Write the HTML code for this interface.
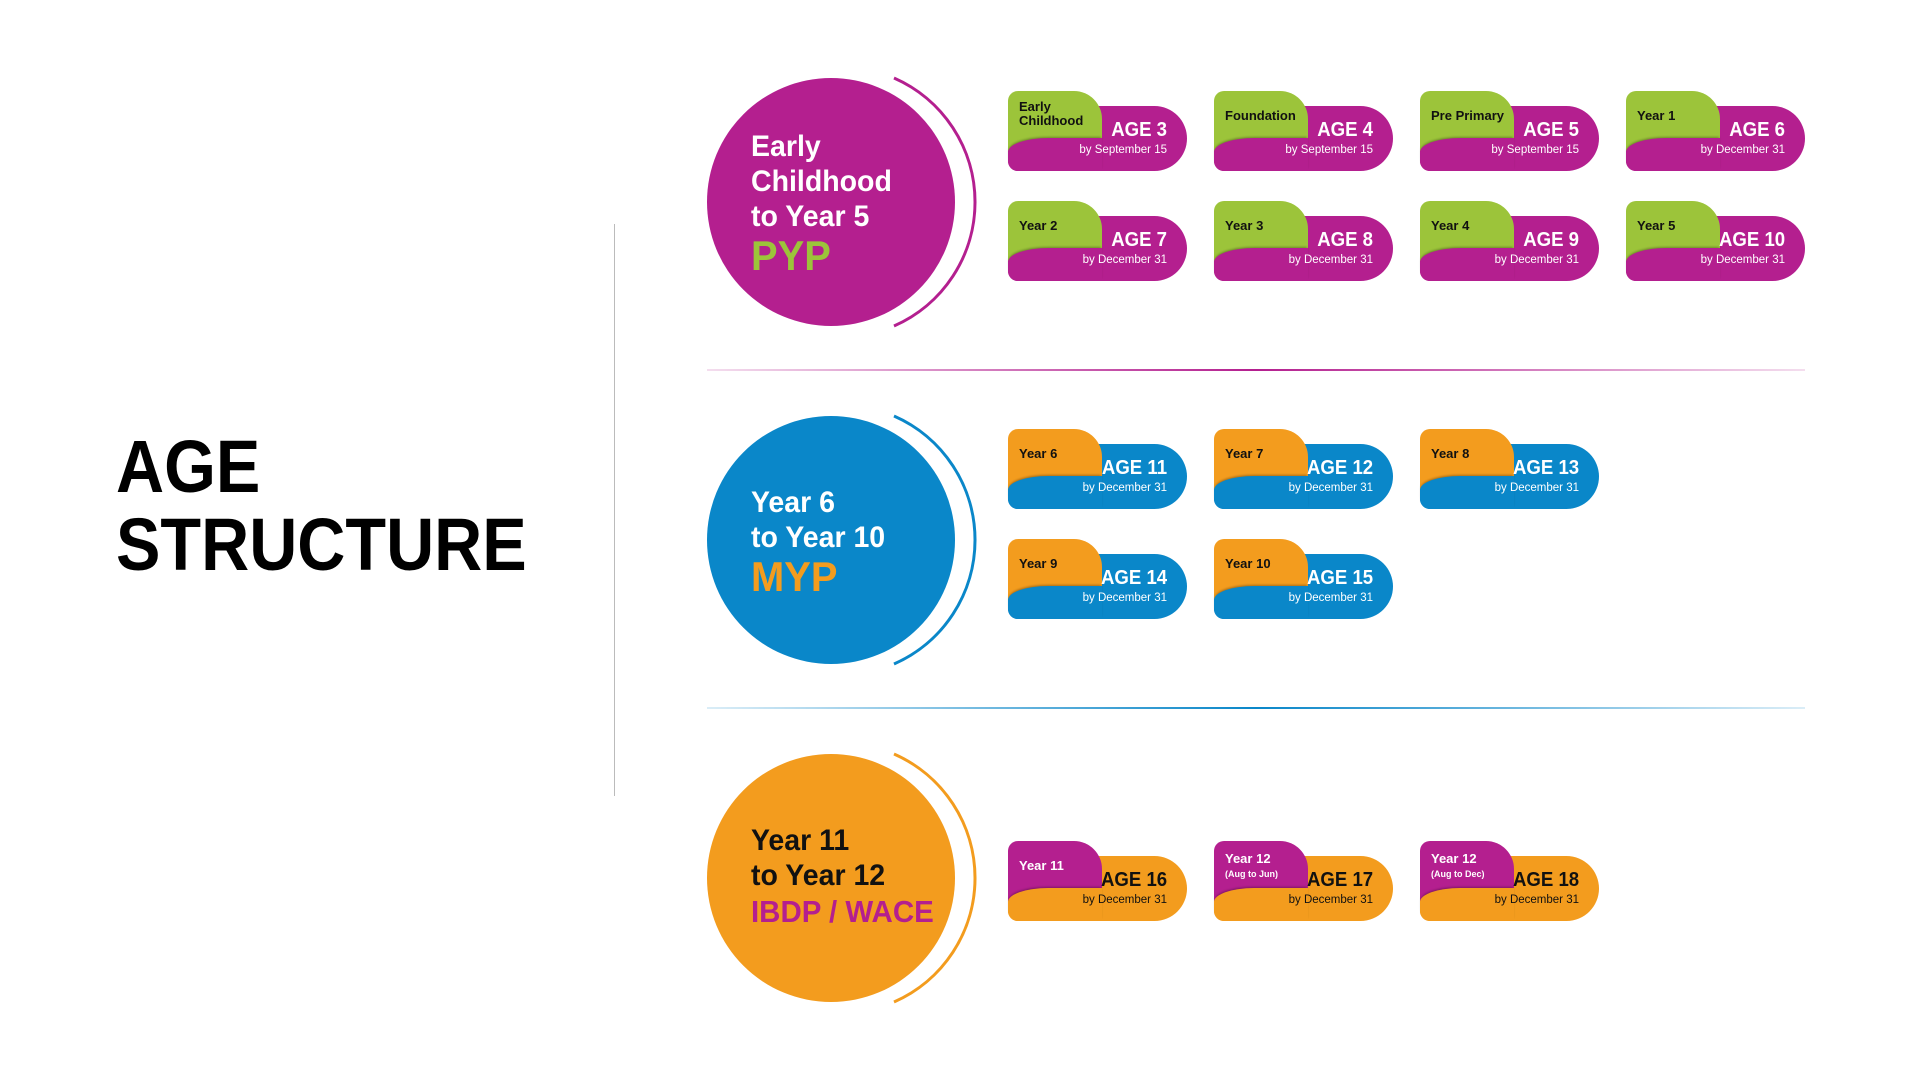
<!DOCTYPE html>
<html><head><meta charset="utf-8"><style>
body{margin:0;width:1920px;height:1080px;background:#fff;position:relative;overflow:hidden;font-family:"Liberation Sans",sans-serif}
.a{position:absolute}
.title{left:116px;top:428px;font-size:74px;font-weight:bold;line-height:78px;color:#000;transform:scaleX(0.9);transform-origin:0 0}
.circ{position:absolute;width:248px;height:248px;border-radius:50%}
.ct{position:absolute;left:751px;font-weight:bold;font-size:30px;line-height:35px;color:#fff;transform:scaleX(0.95);transform-origin:0 0}
.card{position:absolute;width:179px;height:80px}
.card .b{position:absolute;left:0;top:15px;width:179px;height:65px;border-radius:10px 33px 33px 10px}
.card .t{position:absolute;left:0;top:0;width:94px;height:60px;border-radius:10px 28px 0 0}
.card .o{position:absolute;left:0;top:47px;width:94px;height:33px;border-radius:40px 0 0 10px/14px 0 0 10px;box-shadow:0 -2px 2px -1px rgba(0,0,0,.3)}
.card .l{position:absolute;left:11px;top:18px;font-size:13px;font-weight:bold;line-height:14px}
.card .l small{font-size:9px}
.card .g{position:absolute;right:20px;top:28px;font-size:20px;font-weight:bold;transform:scaleX(0.93);transform-origin:100% 0}
.card .d{position:absolute;right:20px;top:53px;font-size:11.5px}
</style></head><body>
<div class="a title">AGE<br>STRUCTURE</div>
<div class="a" style="left:614px;top:224px;width:1px;height:572px;background:#bbb"></div>
<div class="a" style="left:707px;top:369px;width:1098px;height:2px;background:linear-gradient(90deg,rgba(180,31,143,.15),#b41f8f 50%,rgba(180,31,143,.15))"></div>
<div class="a" style="left:707px;top:707px;width:1098px;height:2px;background:linear-gradient(90deg,rgba(10,135,201,.15),#0a87c9 50%,rgba(10,135,201,.15))"></div>
<svg class="a" style="left:0;top:0" width="1920" height="1080">
<path d="M894 78 A135.4 135.4 0 0 1 894 326" fill="none" stroke="#b41f8f" stroke-width="3"/>
<path d="M894 416 A135.4 135.4 0 0 1 894 664" fill="none" stroke="#0a87c9" stroke-width="3"/>
<path d="M894 754 A135.4 135.4 0 0 1 894 1002" fill="none" stroke="#f39c1e" stroke-width="3"/>
</svg>
<div class="circ" style="left:707px;top:78px;background:#b41f8f"></div>
<div class="circ" style="left:707px;top:416px;background:#0a87c9"></div>
<div class="circ" style="left:707px;top:754px;background:#f39c1e"></div>
<div class="ct" style="top:129px">Early<br>Childhood<br>to Year 5<br><span style="color:#9cc43a;font-size:42px;line-height:44px">PYP</span></div>
<div class="ct" style="top:485px">Year 6<br>to Year 10<br><span style="color:#f39c1e;font-size:42px;line-height:44px">MYP</span></div>
<div class="ct" style="top:823px;color:#111">Year 11<br>to Year 12<br><span style="color:#b41f8f;font-size:31px;line-height:38px">IBDP / WACE</span></div>

<!-- PYP -->
<div class="card" style="left:1008px;top:91px"><div class="b" style="background:#b41f8f"></div><div class="t" style="background:#9cc43a"></div><div class="o" style="background:#b41f8f"></div><div class="l" style="top:9px;color:#111">Early<br>Childhood</div><div class="g" style="color:#fff">AGE 3</div><div class="d" style="color:#fff">by September 15</div></div>
<div class="card" style="left:1214px;top:91px"><div class="b" style="background:#b41f8f"></div><div class="t" style="background:#9cc43a"></div><div class="o" style="background:#b41f8f"></div><div class="l" style="color:#111">Foundation</div><div class="g" style="color:#fff">AGE 4</div><div class="d" style="color:#fff">by September 15</div></div>
<div class="card" style="left:1420px;top:91px"><div class="b" style="background:#b41f8f"></div><div class="t" style="background:#9cc43a"></div><div class="o" style="background:#b41f8f"></div><div class="l" style="color:#111">Pre Primary</div><div class="g" style="color:#fff">AGE 5</div><div class="d" style="color:#fff">by September 15</div></div>
<div class="card" style="left:1626px;top:91px"><div class="b" style="background:#b41f8f"></div><div class="t" style="background:#9cc43a"></div><div class="o" style="background:#b41f8f"></div><div class="l" style="color:#111">Year 1</div><div class="g" style="color:#fff">AGE 6</div><div class="d" style="color:#fff">by December 31</div></div>
<div class="card" style="left:1008px;top:201px"><div class="b" style="background:#b41f8f"></div><div class="t" style="background:#9cc43a"></div><div class="o" style="background:#b41f8f"></div><div class="l" style="color:#111">Year 2</div><div class="g" style="color:#fff">AGE 7</div><div class="d" style="color:#fff">by December 31</div></div>
<div class="card" style="left:1214px;top:201px"><div class="b" style="background:#b41f8f"></div><div class="t" style="background:#9cc43a"></div><div class="o" style="background:#b41f8f"></div><div class="l" style="color:#111">Year 3</div><div class="g" style="color:#fff">AGE 8</div><div class="d" style="color:#fff">by December 31</div></div>
<div class="card" style="left:1420px;top:201px"><div class="b" style="background:#b41f8f"></div><div class="t" style="background:#9cc43a"></div><div class="o" style="background:#b41f8f"></div><div class="l" style="color:#111">Year 4</div><div class="g" style="color:#fff">AGE 9</div><div class="d" style="color:#fff">by December 31</div></div>
<div class="card" style="left:1626px;top:201px"><div class="b" style="background:#b41f8f"></div><div class="t" style="background:#9cc43a"></div><div class="o" style="background:#b41f8f"></div><div class="l" style="color:#111">Year 5</div><div class="g" style="color:#fff">AGE 10</div><div class="d" style="color:#fff">by December 31</div></div>

<!-- MYP -->
<div class="card" style="left:1008px;top:429px"><div class="b" style="background:#0a87c9"></div><div class="t" style="background:#f39c1e"></div><div class="o" style="background:#0a87c9"></div><div class="l" style="color:#111">Year 6</div><div class="g" style="color:#fff">AGE 11</div><div class="d" style="color:#fff">by December 31</div></div>
<div class="card" style="left:1214px;top:429px"><div class="b" style="background:#0a87c9"></div><div class="t" style="background:#f39c1e"></div><div class="o" style="background:#0a87c9"></div><div class="l" style="color:#111">Year 7</div><div class="g" style="color:#fff">AGE 12</div><div class="d" style="color:#fff">by December 31</div></div>
<div class="card" style="left:1420px;top:429px"><div class="b" style="background:#0a87c9"></div><div class="t" style="background:#f39c1e"></div><div class="o" style="background:#0a87c9"></div><div class="l" style="color:#111">Year 8</div><div class="g" style="color:#fff">AGE 13</div><div class="d" style="color:#fff">by December 31</div></div>
<div class="card" style="left:1008px;top:539px"><div class="b" style="background:#0a87c9"></div><div class="t" style="background:#f39c1e"></div><div class="o" style="background:#0a87c9"></div><div class="l" style="color:#111">Year 9</div><div class="g" style="color:#fff">AGE 14</div><div class="d" style="color:#fff">by December 31</div></div>
<div class="card" style="left:1214px;top:539px"><div class="b" style="background:#0a87c9"></div><div class="t" style="background:#f39c1e"></div><div class="o" style="background:#0a87c9"></div><div class="l" style="color:#111">Year 10</div><div class="g" style="color:#fff">AGE 15</div><div class="d" style="color:#fff">by December 31</div></div>

<!-- DP -->
<div class="card" style="left:1008px;top:841px"><div class="b" style="background:#f39c1e"></div><div class="t" style="background:#b41f8f"></div><div class="o" style="background:#f39c1e"></div><div class="l" style="color:#fff">Year 11</div><div class="g" style="color:#111">AGE 16</div><div class="d" style="color:#111">by December 31</div></div>
<div class="card" style="left:1214px;top:841px"><div class="b" style="background:#f39c1e"></div><div class="t" style="background:#b41f8f"></div><div class="o" style="background:#f39c1e"></div><div class="l" style="top:11px;color:#fff">Year 12<br><small>(Aug to Jun)</small></div><div class="g" style="color:#111">AGE 17</div><div class="d" style="color:#111">by December 31</div></div>
<div class="card" style="left:1420px;top:841px"><div class="b" style="background:#f39c1e"></div><div class="t" style="background:#b41f8f"></div><div class="o" style="background:#f39c1e"></div><div class="l" style="top:11px;color:#fff">Year 12<br><small>(Aug to Dec)</small></div><div class="g" style="color:#111">AGE 18</div><div class="d" style="color:#111">by December 31</div></div>
</body></html>
